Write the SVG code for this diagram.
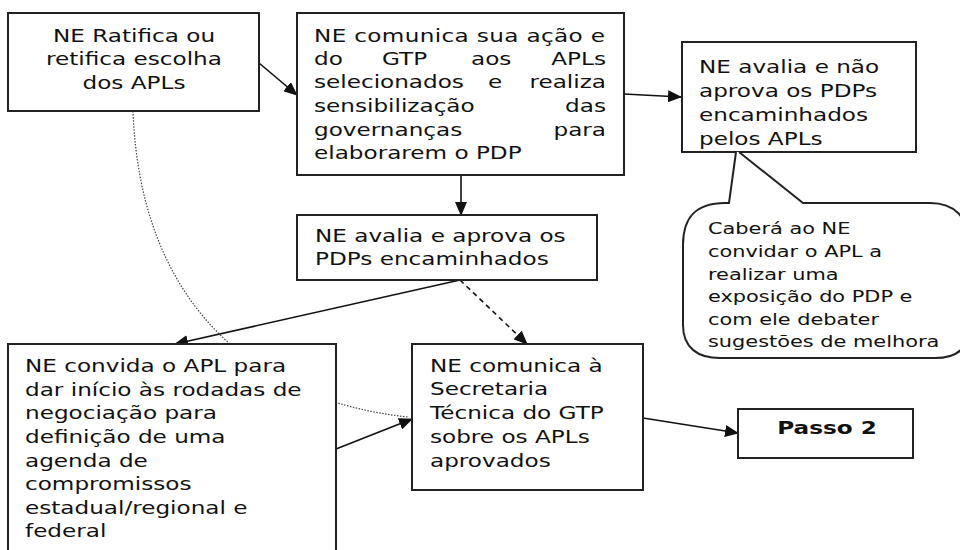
<svg xmlns="http://www.w3.org/2000/svg" width="960" height="550" viewBox="0 0 960 550">
<style>
  .box { fill: #ffffff; stroke: #222222; stroke-width: 2; }
  .t { font-family: "DejaVu Sans", Verdana, sans-serif; font-size: 18.5px; fill: #111111; }
  .s { font-size: 16.7px; }
  .b { font-weight: bold; }
  .c { text-anchor: middle; }
  .e { text-anchor: end; }
  .ln { fill: none; stroke: #111111; stroke-width: 1.6; }
  .dash { stroke-dasharray: 5 4; }
  .dot { fill: none; stroke: #444444; stroke-width: 1.2; stroke-dasharray: 1.5 1.5; }
</style>
<defs>
  <marker id="arr" markerUnits="userSpaceOnUse" markerWidth="14" markerHeight="12" refX="13" refY="6" orient="auto">
    <path d="M0,0 L14,6 L0,12 Z" fill="#111111"/>
  </marker>
</defs>
<rect x="0" y="0" width="960" height="550" fill="#ffffff"/>

<g id="connectors">
  <line class="ln" x1="259" y1="63" x2="297" y2="95" marker-end="url(#arr)"/>
  <line class="ln" x1="624" y1="94" x2="681" y2="97" marker-end="url(#arr)"/>
  <line class="ln" x1="461" y1="176" x2="461" y2="215" marker-end="url(#arr)"/>
  <line class="ln" x1="460" y1="280" x2="175" y2="344" marker-end="url(#arr)"/>
  <line class="ln dash" x1="460" y1="280" x2="527" y2="344" marker-end="url(#arr)"/>
  <path class="dot" d="M133,111 C140,300 250,400 408,417"/>
  <line class="ln" x1="336" y1="449" x2="412" y2="419" marker-end="url(#arr)"/>
  <line class="ln" x1="643" y1="418" x2="738" y2="433" marker-end="url(#arr)"/>
</g>

<g id="n1">
  <rect class="box" x="8" y="13" width="251" height="98"/>
  <text class="t c" transform="translate(134,42) scale(1.25,1)">NE Ratifica ou</text>
  <text class="t c" transform="translate(134,65) scale(1.25,1)">retifica escolha</text>
  <text class="t c" transform="translate(134,89) scale(1.25,1)">dos APLs</text>
</g>

<g id="n2">
  <rect class="box" x="297" y="13" width="327" height="162"/>
  <text class="t" transform="translate(314,42) scale(1.25,1)" textLength="232.8" lengthAdjust="spacing">NE comunica sua ação e</text>
  <text class="t" transform="translate(314,65) scale(1.25,1)">do</text>
  <text class="t" transform="translate(382,65) scale(1.25,1)">GTP</text>
  <text class="t" transform="translate(471,65) scale(1.25,1)">aos</text>
  <text class="t e" transform="translate(606,65) scale(1.25,1)">APLs</text>
  <text class="t" transform="translate(314,88) scale(1.25,1)">selecionados</text>
  <text class="t" transform="translate(488,88) scale(1.25,1)">e</text>
  <text class="t e" transform="translate(606,88) scale(1.25,1)">realiza</text>
  <text class="t" transform="translate(314,112) scale(1.25,1)">sensibilização</text>
  <text class="t e" transform="translate(606,112) scale(1.25,1)">das</text>
  <text class="t" transform="translate(314,136) scale(1.25,1)">governanças</text>
  <text class="t e" transform="translate(606,136) scale(1.25,1)">para</text>
  <text class="t" transform="translate(314,159) scale(1.25,1)">elaborarem o PDP</text>
</g>

<g id="n3">
  <rect class="box" x="682" y="42" width="234" height="110"/>
  <text class="t" transform="translate(699,73) scale(1.25,1)">NE avalia e não</text>
  <text class="t" transform="translate(699,97) scale(1.25,1)">aprova os PDPs</text>
  <text class="t" transform="translate(699,121) scale(1.25,1)">encaminhados</text>
  <text class="t" transform="translate(699,145) scale(1.25,1)">pelos APLs</text>
</g>

<g id="callout">
  <path class="box" d="M736,152 L729,203 L725,203 C695,203 683,218 683,245 L683,325 C683,348 698,358 720,358 L935,358 C958,358 968,348 968,330 L968,240 C968,218 955,203 930,203 L803,203 L739,152"/>
  <text class="t s" transform="translate(708,234) scale(1.25,1)">Caberá ao NE</text>
  <text class="t s" transform="translate(708,257) scale(1.25,1)">convidar o APL a</text>
  <text class="t s" transform="translate(708,280) scale(1.25,1)">realizar uma</text>
  <text class="t s" transform="translate(708,302) scale(1.25,1)">exposição do PDP e</text>
  <text class="t s" transform="translate(708,325) scale(1.25,1)">com ele debater</text>
  <text class="t s" transform="translate(708,347) scale(1.25,1)">sugestões de melhora</text>
</g>

<g id="n4">
  <rect class="box" x="297" y="215" width="300" height="65"/>
  <text class="t" transform="translate(315,242) scale(1.25,1)">NE avalia e aprova os</text>
  <text class="t" transform="translate(315,265) scale(1.25,1)">PDPs encaminhados</text>
</g>

<g id="n5">
  <rect class="box" x="8" y="344" width="328" height="220"/>
  <text class="t" transform="translate(25,372) scale(1.25,1)">NE convida o APL para</text>
  <text class="t" transform="translate(25,396) scale(1.25,1)">dar início às rodadas de</text>
  <text class="t" transform="translate(25,419) scale(1.25,1)">negociação para</text>
  <text class="t" transform="translate(25,443) scale(1.25,1)">definição de uma</text>
  <text class="t" transform="translate(25,467) scale(1.25,1)">agenda de</text>
  <text class="t" transform="translate(25,490) scale(1.25,1)">compromissos</text>
  <text class="t" transform="translate(25,514) scale(1.25,1)">estadual/regional e</text>
  <text class="t" transform="translate(25,537) scale(1.25,1)">federal</text>
</g>

<g id="n6">
  <rect class="box" x="412" y="344" width="231" height="146"/>
  <text class="t" transform="translate(430,372) scale(1.25,1)">NE comunica à</text>
  <text class="t" transform="translate(430,395) scale(1.25,1)">Secretaria</text>
  <text class="t" transform="translate(430,419) scale(1.25,1)">Técnica do GTP</text>
  <text class="t" transform="translate(430,443) scale(1.25,1)">sobre os APLs</text>
  <text class="t" transform="translate(430,467) scale(1.25,1)">aprovados</text>
</g>

<g id="n7">
  <rect class="box" x="738" y="409" width="175" height="49"/>
  <text class="t b c" transform="translate(827,434) scale(1.25,1)">Passo 2</text>
</g>
</svg>
